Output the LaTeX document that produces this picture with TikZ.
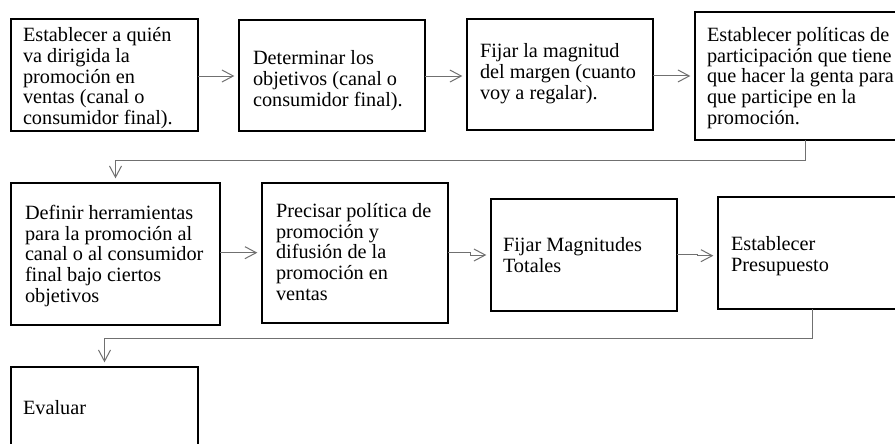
\documentclass[tikz,border=0pt]{standalone}
\usepackage{fontspec}
\setmainfont{Liberation Serif}
\usetikzlibrary{arrows.meta}
\definecolor{conncol}{RGB}{112,112,112}
\tikzset{
  stepbox/.style={draw=black, line width=1.5pt, fill=white, inner sep=0pt, outer sep=0pt, rectangle},
  sz/.style 2 args={minimum width=#1*0.75pt, minimum height=#2*0.75pt},
  txt/.style={anchor=north west, inner sep=0pt, outer sep=0pt, align=left,
    font=\fontsize{15.2}{15.5}\selectfont},
  conn/.style={draw=conncol, line width=0.75pt, -{Straight Barb[length=8.5pt,width=9pt]}, shorten >=3.5pt}
}
\begin{document}
\begin{tikzpicture}[x=0.75pt,y=-0.75pt]
\useasboundingbox (0,0) rectangle (895,443);
\clip (0,0) rectangle (895,443);
\fill[white] (0,0) rectangle (895,443);
% boxes
\node[stepbox, sz={187}{112}] (b1) at (104.5,75) {};
\node[stepbox, sz={186}{111}] (b2) at (332,75.5) {};
\node[stepbox, sz={186}{111}] (b3) at (560,74.5) {};
\node[stepbox, sz={210}{128}] (b4) at (800,76) {};
\node[stepbox, sz={209}{142}] (b5) at (115.5,254) {};
\node[stepbox, sz={186}{140}] (b6) at (355,253) {};
\node[stepbox, sz={186}{112}] (b7) at (584,255) {};
\node[stepbox, sz={190}{112}] (b8) at (813,253) {};
\node[stepbox, sz={187}{100}] (b9) at (104.5,417) {};
% texts
\node[txt] (t1) at (23,27.5) {\strut Establecer a quién\\va dirigida la\\promoción en\\ventas (canal o\\consumidor final).};
\node[txt] (t2) at (253,50.5) {\strut Determinar los\\objetivos (canal o\\consumidor final).};
\node[txt] (t3) at (480,43.5) {\strut Fijar la magnitud\\del margen (cuanto\\voy a regalar).};
\node[txt] (t4) at (707,27) {\strut Establecer políticas de\\participación que tiene\\que hacer la genta para\\que participe en la\\promoción.};
\node[txt] (t5) at (25,205) {\strut Definir herramientas\\para la promoción al\\canal o al consumidor\\final bajo ciertos\\objetivos};
\node[txt] (t6) at (276,203) {\strut Precisar política de\\promoción y\\difusión de la\\promoción en\\ventas};
\node[txt] (t7) at (503,237.5) {\strut Fijar Magnitudes\\Totales};
\node[txt] (t8) at (731,236.5) {\strut Establecer\\Presupuesto};
\node[txt] (t9) at (23,400.5) {\strut Evaluar};
% connectors
\draw[conn] ([yshift=-0.75pt]b1.east) -- ([yshift=-0.75pt]b1.east -| b2.west);
\draw[conn] ([yshift=-0.4pt]b2.east) -- ([yshift=-0.4pt]b2.east -| b3.west);
\draw[conn] ([yshift=-1.1pt]b3.east) -- ([yshift=-1.1pt]b3.east -| b4.west);
\draw[conn] ([xshift=4.1pt]b4.south) -- ++(0,20) -| (b5.north);
\draw[conn] ([yshift=1pt]b5.east) -- ([yshift=1pt]b5.east -| b6.west);
\draw[conn] ([yshift=0.75pt]b6.east) -- ++(22,0) |- (b7.west);
\draw[conn] ([yshift=0.75pt]b7.east) -- ++(20,0) |- ([yshift=-2pt]b8.west);
\draw[conn] ([xshift=-0.75pt]b8.south) -- ++(0,29) -| (b9.north);
\end{tikzpicture}
\end{document}
